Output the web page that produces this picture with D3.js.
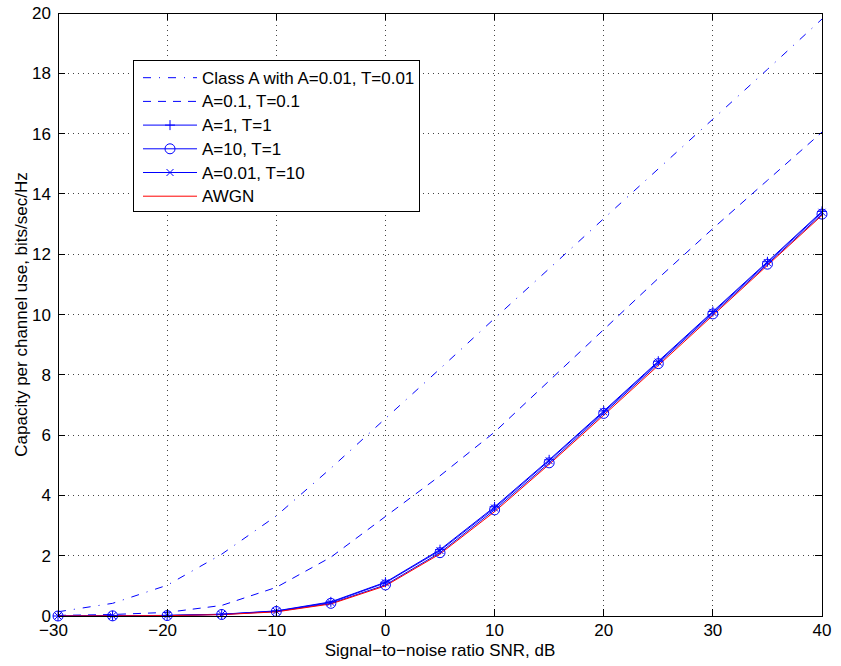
<!DOCTYPE html>
<html>
<head>
<meta charset="utf-8">
<script src="https://cdn.jsdelivr.net/npm/d3@7"></script>
<style>
  body { margin: 0; background: #fff; }
  text { font-family: "Liberation Sans", Arial, sans-serif; }
</style>
</head>
<body>
<div id="chart"></div>
<script>
// SNR in dB
const snr = [-30, -25, -20, -15, -10, -5, 0, 5, 10, 15, 20, 25, 30, 35, 40];

// capacity curves, bits/sec/Hz
const classA001 = [0.14, 0.42, 1.02, 2.05, 3.32, 4.9, 6.55, 8.2, 9.87, 11.52, 13.18, 14.83, 16.48, 18.13, 19.8];
const classA01 = [0.02, 0.05, 0.12, 0.35, 0.95, 1.95, 3.3, 4.65, 6.1, 7.8, 9.5, 11.2, 12.85, 14.45, 16.05];
const classA1 = [0.0, 0.01, 0.02, 0.06, 0.17, 0.47, 1.12, 2.2, 3.62, 5.18, 6.8, 8.45, 10.1, 11.75, 13.42];
const classA10 = [0.0, 0.005, 0.015, 0.05, 0.15, 0.42, 1.03, 2.1, 3.52, 5.08, 6.72, 8.37, 10.02, 11.67, 13.33];
const classA001T10 = [0.0, 0.008, 0.018, 0.055, 0.16, 0.45, 1.1, 2.17, 3.58, 5.15, 6.77, 8.42, 10.07, 11.72, 13.39];
const awgn = [0.001, 0.005, 0.014, 0.045, 0.137, 0.4, 1.0, 2.06, 3.46, 5.03, 6.66, 8.31, 9.97, 11.63, 13.29];

const xTicks = [-30, -20, -10, 0, 10, 20, 30, 40];
const yTicks = [0, 2, 4, 6, 8, 10, 12, 14, 16, 18, 20];

const series = [
  { name: "Class A with A=0.01, T=0.01", values: classA001, color: "#0000ff", dash: "8,8,1,8", marker: null },
  { name: "A=0.1, T=0.1", values: classA01, color: "#0000ff", dash: "8,7", marker: null },
  { name: "A=1, T=1", values: classA1, color: "#0000ff", dash: null, marker: "plus" },
  { name: "A=10, T=1", values: classA10, color: "#0000ff", dash: null, marker: "circle" },
  { name: "A=0.01, T=10", values: classA001T10, color: "#0000ff", dash: null, marker: "cross" },
  { name: "AWGN", values: awgn, color: "#ff0000", dash: null, marker: null }
];

const width = 841, height = 666;
const margin = { top: 13, right: 19, bottom: 50, left: 58 };
const fontSize = 17;

const svg = d3.select("#chart").append("svg")
  .attr("width", width).attr("height", height);

const x = d3.scaleLinear().domain([-30, 40]).range([margin.left, width - margin.right]);
const y = d3.scaleLinear().domain([0, 20]).range([height - margin.bottom, margin.top]);

const x0 = x.range()[0], x1 = x.range()[1];
const y0 = y.range()[0], y1 = y.range()[1];

// grid
svg.append("g").selectAll("line").data(xTicks.slice(1, -1)).enter().append("line")
  .attr("x1", d => x(d)).attr("x2", d => x(d)).attr("y1", y0).attr("y2", y1)
  .attr("stroke", "#444").attr("stroke-width", 1).attr("stroke-dasharray", "1,4")
  .attr("shape-rendering", "crispEdges");
svg.append("g").selectAll("line").data(yTicks.slice(1, -1)).enter().append("line")
  .attr("y1", d => y(d)).attr("y2", d => y(d)).attr("x1", x0).attr("x2", x1)
  .attr("stroke", "#444").attr("stroke-width", 1).attr("stroke-dasharray", "1,4")
  .attr("shape-rendering", "crispEdges");

// curves
const line = d3.line().x((d, i) => x(snr[i])).y(d => y(d));
const plot = svg.append("g");
series.forEach(s => {
  plot.append("path").datum(s.values)
    .attr("d", line).attr("fill", "none")
    .attr("stroke", s.color).attr("stroke-width", 1)
    .attr("stroke-dasharray", s.dash);
});

function drawMarker(g, type, cx, cy, color) {
  if (type === "plus") {
    g.append("path").attr("d", `M${cx - 5},${cy}H${cx + 5}M${cx},${cy - 5}V${cy + 5}`)
      .attr("stroke", color).attr("stroke-width", 1).attr("fill", "none");
  } else if (type === "circle") {
    g.append("circle").attr("cx", cx).attr("cy", cy).attr("r", 5)
      .attr("stroke", color).attr("stroke-width", 1).attr("fill", "none");
  } else if (type === "cross") {
    g.append("path").attr("d", `M${cx - 3.5},${cy - 3.5}L${cx + 3.5},${cy + 3.5}M${cx - 3.5},${cy + 3.5}L${cx + 3.5},${cy - 3.5}`)
      .attr("stroke", color).attr("stroke-width", 1).attr("fill", "none");
  }
}

series.filter(s => s.marker).forEach(s => {
  s.values.forEach((v, i) => drawMarker(plot, s.marker, x(snr[i]), y(v), s.color));
});

// box and ticks (inside, both sides)
svg.append("rect").attr("x", x0).attr("y", y1).attr("width", x1 - x0).attr("height", y0 - y1)
  .attr("fill", "none").attr("stroke", "#000").attr("stroke-width", 1)
  .attr("shape-rendering", "crispEdges");

const tickLen = 7;
const tg = svg.append("g").attr("stroke", "#000").attr("stroke-width", 1).attr("shape-rendering", "crispEdges");
xTicks.forEach(t => {
  tg.append("line").attr("x1", x(t)).attr("x2", x(t)).attr("y1", y0).attr("y2", y0 - tickLen);
  tg.append("line").attr("x1", x(t)).attr("x2", x(t)).attr("y1", y1).attr("y2", y1 + tickLen);
});
yTicks.forEach(t => {
  tg.append("line").attr("y1", y(t)).attr("y2", y(t)).attr("x1", x0).attr("x2", x0 + tickLen);
  tg.append("line").attr("y1", y(t)).attr("y2", y(t)).attr("x1", x1).attr("x2", x1 - tickLen);
});

// tick labels (digits centred on the tick, minus sign hangs left)
const fmt = d => (d < 0 ? "\u2212" + Math.abs(d) : String(d));
svg.append("g").selectAll("text").data(xTicks).enter().append("text")
  .attr("x", d => x(d) - (d < 0 ? 4.5 : 0)).attr("y", y0 + 20)
  .attr("text-anchor", "middle").attr("font-size", fontSize).text(fmt);
svg.append("g").selectAll("text").data(yTicks).enter().append("text")
  .attr("x", x0 - 7).attr("y", d => y(d) + 6)
  .attr("text-anchor", "end").attr("font-size", fontSize).text(fmt);

// axis titles
svg.append("text").attr("x", (x0 + x1) / 2).attr("y", y0 + 40)
  .attr("text-anchor", "middle").attr("font-size", fontSize)
  .text("Signal\u2212to\u2212noise ratio SNR, dB");
svg.append("text").attr("transform", `translate(27,${(y0 + y1) / 2}) rotate(-90)`)
  .attr("text-anchor", "middle").attr("font-size", fontSize)
  .text("Capacity per channel use, bits/sec/Hz");

// legend
const lg = svg.append("g").attr("transform", "translate(133,60)");
lg.append("rect").attr("width", 286).attr("height", 151)
  .attr("fill", "#fff").attr("stroke", "#000").attr("stroke-width", 1)
  .attr("shape-rendering", "crispEdges");
series.forEach((s, i) => {
  const ly = 17.7 + i * 23.7;
  lg.append("line").attr("x1", 10).attr("x2", 64).attr("y1", ly).attr("y2", ly)
    .attr("stroke", s.color).attr("stroke-width", 1).attr("stroke-dasharray", s.dash);
  if (s.marker) drawMarker(lg, s.marker, 37, ly, s.color);
  lg.append("text").attr("x", 69).attr("y", ly + 6).attr("font-size", fontSize).text(s.name);
});
</script>
</body>
</html>
